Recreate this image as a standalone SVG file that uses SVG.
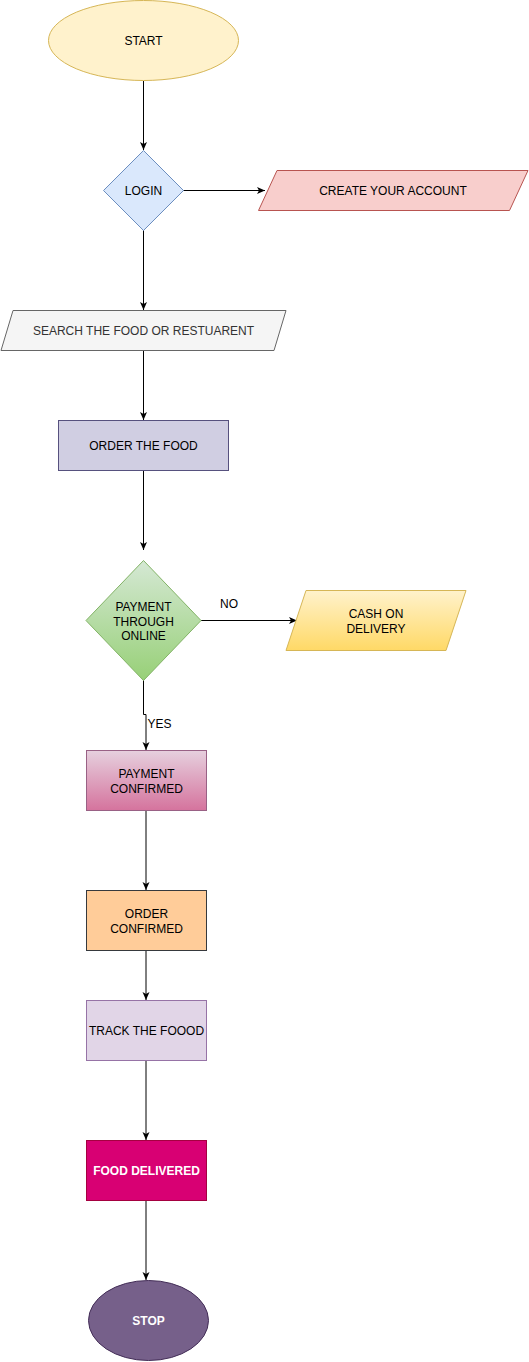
<svg xmlns="http://www.w3.org/2000/svg" width="529" height="1362" viewBox="0 0 529 1362">
<defs>
<linearGradient id="gGreen" x1="0" y1="0" x2="0" y2="1"><stop offset="0" stop-color="#d5e8d4"/><stop offset="1" stop-color="#97d077"/></linearGradient>
<linearGradient id="gYellow" x1="0" y1="0" x2="0" y2="1"><stop offset="0" stop-color="#fff2cc"/><stop offset="1" stop-color="#ffd966"/></linearGradient>
<linearGradient id="gPink" x1="0" y1="0" x2="0" y2="1"><stop offset="0" stop-color="#e6d0de"/><stop offset="1" stop-color="#d5739d"/></linearGradient>
<marker id="arr" viewBox="0 0 8 8" refX="8" refY="4" markerWidth="8" markerHeight="8" markerUnits="userSpaceOnUse" orient="auto">
<path d="M0,0.5 L8,4 L0,7.5 L2,4 Z" fill="#000"/>
</marker>
</defs>
<style>
text{font-family:"Liberation Sans",Arial,sans-serif;font-size:12px;fill:#000;text-anchor:middle}
.w{fill:#fff;font-weight:bold}
.c{fill:none;stroke:#000;stroke-width:1}
.lbl{text-anchor:start}
</style>
<g id="connectors">
<path class="c" d="M143.5,81 V150" marker-end="url(#arr)"/>
<path class="c" d="M183,190.5 H265" marker-end="url(#arr)"/>
<path class="c" d="M143.5,230 V310" marker-end="url(#arr)"/>
<path class="c" d="M143.5,350.5 V420" marker-end="url(#arr)"/>
<path class="c" d="M143.5,470.5 V550" marker-end="url(#arr)"/>
<path class="c" d="M201,620.5 H297" marker-end="url(#arr)"/>
<path class="c" d="M143.5,680 V714.5 H146 V750" marker-end="url(#arr)"/>
<path class="c" d="M146,810.5 V890" marker-end="url(#arr)"/>
<path class="c" d="M146,950.5 V1000" marker-end="url(#arr)"/>
<path class="c" d="M146,1060.5 V1140" marker-end="url(#arr)"/>
<path class="c" d="M146,1200.5 V1280" marker-end="url(#arr)"/>
<text x="229" y="608">NO</text>
<text class="lbl" x="147.5" y="728">YES</text>
</g>
<g id="start">
<ellipse cx="143.5" cy="40.5" rx="95" ry="40" fill="#fff2cc" stroke="#d6b656"/>
<text x="143.5" y="45">START</text>
</g>
<g id="login">
<path d="M143.5,150.5 L183.5,190.5 L143.5,230.5 L103.5,190.5 Z" fill="#dae8fc" stroke="#6c8ebf"/>
<text x="143.5" y="195">LOGIN</text>
</g>
<g id="create">
<path d="M277,170.5 H528 L509.5,210.5 H258.5 Z" fill="#f8cecc" stroke="#b85450"/>
<text x="393" y="195">CREATE YOUR ACCOUNT</text>
</g>
<g id="search">
<path d="M13,310.5 H286 L274,350.5 H1 Z" fill="#f5f5f5" stroke="#666666"/>
<text x="143.5" y="335" style="fill:#333333">SEARCH THE FOOD OR RESTUARENT</text>
</g>
<g id="order">
<rect x="58.5" y="420.5" width="170" height="50" fill="#d0cee2" stroke="#56517e"/>
<text x="143.5" y="450">ORDER THE FOOD</text>
</g>
<g id="payment">
<path d="M143.5,560.5 L201,620.5 L143.5,680.5 L86,620.5 Z" fill="url(#gGreen)" stroke="#82b366"/>
<text x="143.5" y="611">PAYMENT</text>
<text x="143.5" y="625.5">THROUGH</text>
<text x="143.5" y="640">ONLINE</text>
</g>
<g id="cash">
<path d="M306,590.5 H466 L446,650.5 H286 Z" fill="url(#gYellow)" stroke="#d6b656"/>
<text x="376" y="617.5">CASH ON</text>
<text x="376" y="632.5">DELIVERY</text>
</g>
<g id="paid">
<rect x="86.5" y="750.5" width="120" height="60" fill="url(#gPink)" stroke="#996185"/>
<text x="146.5" y="777.5">PAYMENT</text>
<text x="146.5" y="792.5">CONFIRMED</text>
</g>
<g id="confirmed">
<rect x="86.5" y="890.5" width="120" height="60" fill="#ffcc99" stroke="#36393d"/>
<text x="146.5" y="917.5">ORDER</text>
<text x="146.5" y="932.5">CONFIRMED</text>
</g>
<g id="track">
<rect x="86.5" y="1000.5" width="120" height="60" fill="#e1d5e7" stroke="#9673a6"/>
<text x="146.5" y="1035">TRACK THE FOOOD</text>
</g>
<g id="delivered">
<rect x="86.5" y="1140.5" width="120" height="60" fill="#d80073" stroke="#a50040"/>
<text class="w" x="146.5" y="1175">FOOD DELIVERED</text>
</g>
<g id="stop">
<ellipse cx="148.5" cy="1320.5" rx="60" ry="40" fill="#76608a" stroke="#432d57"/>
<text class="w" x="148.5" y="1325">STOP</text>
</g>
</svg>
